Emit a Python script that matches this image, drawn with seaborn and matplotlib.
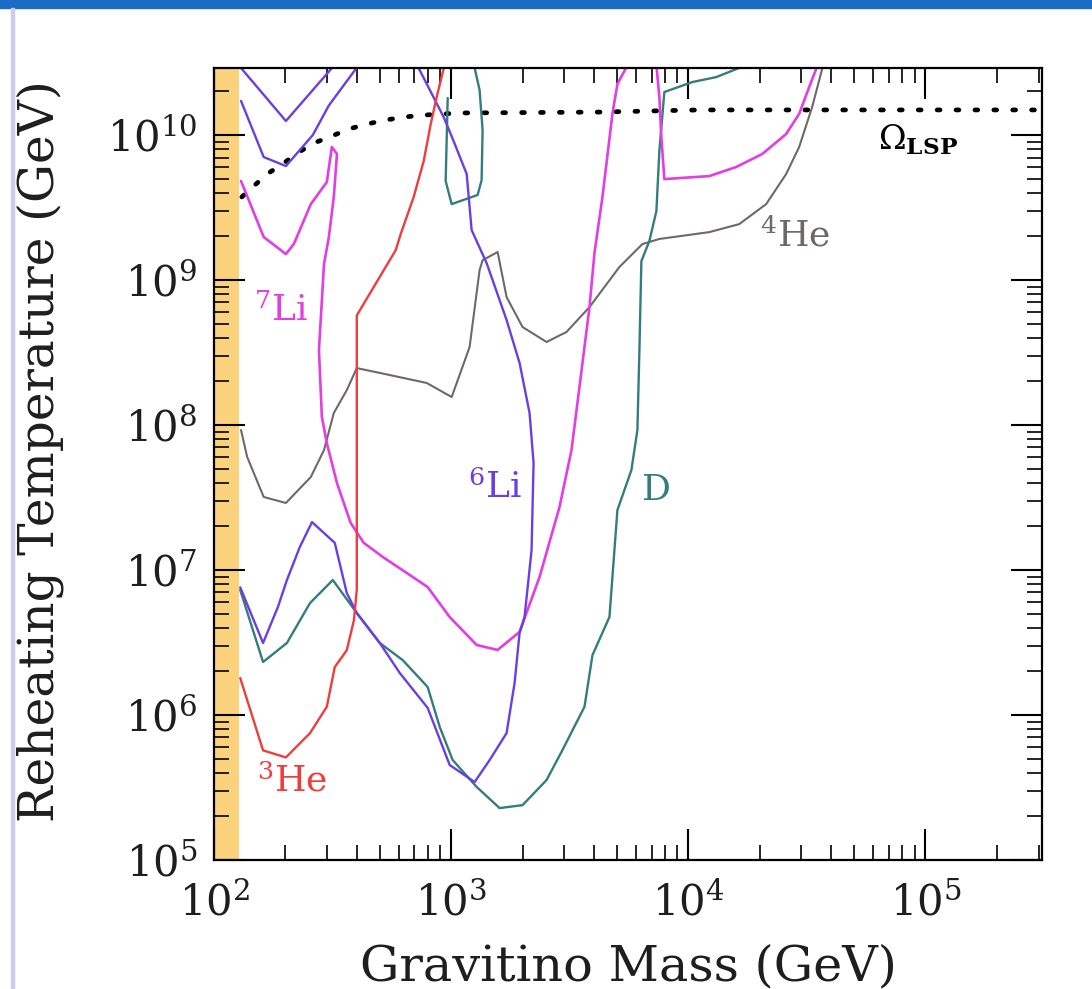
import numpy as np
import pandas as pd
import matplotlib
matplotlib.use("Agg")
import matplotlib.pyplot as plt
from matplotlib.patches import Rectangle
from matplotlib.ticker import LogLocator, FuncFormatter, NullFormatter
import seaborn as sns

# ---------------- data (GeV) ----------------
# 3He bound (red)
he3_mass = [129, 161, 201, 254, 299, 323, 363, 389, 400, 400, 584, 613, 695, 766, 820, 869, 945]
he3_temp = [1.8e6, 5.7e5, 5.1e5, 7.5e5, 1.14e6, 2.14e6, 2.8e6, 4.5e6, 7.3e6, 5.7e8, 1.61e9,
            2.08e9, 3.74e9, 6.62e9, 1.19e10, 1.83e10, 3.2e10]

# 6Li bound (blue-violet) main contour
li6_mass = [129, 161, 186, 203, 230, 259, 323, 363, 400, 500, 607, 796, 986, 1256, 1453, 1713,
            1851, 1943, 2039, 2183, 2226, 2141, 1943, 1713, 1411, 1220, 1163, 1024, 930, 700]
li6_temp = [7.6e6, 3.14e6, 5.56e6, 8.53e6, 1.44e7, 2.14e7, 1.54e7, 6.94e6, 5.05e6, 3.14e6,
            1.95e6, 1.12e6, 4.52e5, 3.45e5, 4.89e5, 7.51e5, 1.66e6, 3.68e6, 4.74e6, 1.37e7,
            5.47e7, 1.21e8, 2.68e8, 5.3e8, 1.31e9, 2.21e9, 5.38e9, 9.09e9, 1.33e10, 3.3e10]
# 6Li upper pieces
li6_up1_mass = [130, 201, 320]
li6_up1_temp = [2.9e10, 1.25e10, 3.0e10]
li6_up2_mass = [130, 162, 201, 261, 305, 405]
li6_up2_temp = [1.72e10, 7.05e9, 6.11e9, 1.0e10, 1.6e10, 3.0e10]

# D bound (teal)
d_mass = [129, 161, 203, 254, 317, 400, 500, 625, 796, 895, 1015, 1281, 1601, 2000, 2525,
          2948, 3649, 3944, 4650, 4880, 5024, 5754, 6100, 6220, 6340, 6853, 7335, 7550,
          7924, 10395, 13124, 15925, 19900]
d_temp = [7.28e6, 2.32e6, 3.14e6, 5.92e6, 8.53e6, 5.05e6, 3.14e6, 2.39e6, 1.56e6, 8.27e5,
          4.89e5, 3.19e5, 2.28e5, 2.39e5, 3.56e5, 5.74e5, 1.14e6, 2.59e6, 4.74e6, 1.37e7,
          2.59e7, 4.89e7, 9.24e7, 3.29e8, 1.35e9, 1.86e9, 2.99e9, 7.76e9, 1.98e10, 2.32e10,
          2.51e10, 2.85e10, 3.3e10]
# D upper loop
d_loop_mass = [967, 948, 1005, 1293, 1344, 1357, 1318, 1240]
d_loop_temp = [1.8e10, 4.82e9, 3.34e9, 3.86e9, 4.89e9, 1.08e10, 2.04e10, 3.2e10]

# 7Li bound (magenta)
li7_mass = [130, 162, 201, 217, 256, 299, 314, 330, 320, 305, 291, 277, 285, 299, 330, 377,
            428, 515, 650, 796, 986, 1281, 1570, 1943, 2359, 2863, 3217, 3579, 3831, 4021,
            4345, 4786, 5024, 5754]
li7_temp = [4.82e9, 1.98e9, 1.51e9, 1.77e9, 3.34e9, 4.74e9, 8.27e9, 7.4e9, 3.74e9, 1.98e9,
            1.29e9, 3.29e8, 1.14e8, 7.51e7, 3.98e7, 2.11e7, 1.54e7, 1.23e7, 9.54e6, 7.63e6,
            4.74e6, 3.04e6, 2.81e6, 3.74e6, 8.95e6, 2.72e7, 6.72e7, 2.68e8, 6.51e8, 1.54e9,
            3.74e9, 1.40e10, 2.25e10, 3.4e10]
li7_right_mass = [7300, 7550, 7696, 7924, 12258, 15925, 20493, 25846, 29339, 32325, 34583, 35700]
li7_right_temp = [3.3e10, 1.83e10, 9.69e9, 4.97e9, 5.21e9, 6.02e9, 7.4e9, 1.016e10, 1.40e10,
                  2.14e10, 2.85e10, 3.3e10]

# 4He bound (grey)
he4_mass = [130, 138, 162, 201, 256, 291, 320, 363, 400, 505, 789, 1005, 1196, 1318, 1357,
            1570, 1713, 2000, 2525, 3064, 3831, 5122, 6403, 7550, 12258, 16393, 21294, 25846,
            29339, 33277, 36660, 37900]
he4_temp = [9.24e7, 6.02e7, 3.19e7, 2.90e7, 4.38e7, 6.72e7, 1.21e8, 1.74e8, 2.47e8, 2.28e8,
            1.95e8, 1.56e8, 3.45e8, 1.17e9, 1.37e9, 1.56e9, 7.63e8, 4.74e8, 3.74e8, 4.38e8,
            6.51e8, 1.23e9, 1.77e9, 1.92e9, 2.14e9, 2.43e9, 3.34e9, 5.38e9, 8.27e9, 1.56e10,
            2.85e10, 3.3e10]

# Omega_LSP (dotted black)
omega_mass = [131, 147, 170, 197, 228, 264, 314, 370, 441, 530, 631, 751, 930, 1096, 4220,
              11125, 310000]
omega_temp = [3.74e9, 4.45e9, 5.47e9, 6.41e9, 7.63e9, 8.81e9, 9.84e9, 1.10e10, 1.19e10,
              1.27e10, 1.33e10, 1.37e10, 1.40e10, 1.42e10, 1.44e10, 1.49e10, 1.49e10]

excluded_mass_max = 127   # shaded band on the left
x_range = (100, 3.1e5)
y_range = (1e5, 2.9e10)

# ---------------- style ----------------
sns.set_theme(style="white")
plt.rcParams["font.family"] = ["DejaVu Serif"]
plt.rcParams["mathtext.fontset"] = "dejavuserif"

RED = "#ee3d3d"
MAG = "#e23ee2"
BLUE = "#6a3fe0"
TEAL = "#357c7c"
GREY = "#6f6868"
TXT = "#1e1e1e"

fig = plt.figure(figsize=(10.92, 9.89), dpi=100)
# page decorations
fig.patches.append(Rectangle((0, 1 - 8 / 989), 1, 8 / 989, transform=fig.transFigure,
                             color="#1a6cc4", zorder=0))
fig.patches.append(Rectangle((11 / 1092, 0), 3 / 1092, 1 - 8 / 989, transform=fig.transFigure,
                             color="#c9cdeb", zorder=0))

ax = fig.add_axes([214 / 1092, 1 - 860 / 989, 828 / 1092, 792 / 989])
ax.set_xscale("log")
ax.set_yscale("log")
ax.set_xlim(*x_range)
ax.set_ylim(*y_range)
ax.axvspan(x_range[0], excluded_mass_max, color="#fbd27c", lw=0, zorder=0)


def draw(m, t, color, lw=1.7, **kw):
    df = pd.DataFrame({"m": m, "T": t})
    sns.lineplot(data=df, x="m", y="T", sort=False, estimator=None, color=color,
                 lw=lw, ax=ax, **kw)


draw(omega_mass, omega_temp, "black", lw=3.4, linestyle=(0, (0.6, 3.4)),
     dash_capstyle="round")
draw(he4_mass, he4_temp, GREY, lw=1.5)
draw(d_mass, d_temp, TEAL, lw=1.7)
draw(d_loop_mass, d_loop_temp, TEAL, lw=1.7)
draw(li7_mass, li7_temp, MAG, lw=1.9)
draw(li7_right_mass, li7_right_temp, MAG, lw=1.9)
draw(li6_mass, li6_temp, BLUE, lw=1.7)
draw(li6_up1_mass, li6_up1_temp, BLUE, lw=1.7)
draw(li6_up2_mass, li6_up2_temp, BLUE, lw=1.7)
draw(he3_mass, he3_temp, RED, lw=1.7)

# ticks
ax.xaxis.set_major_locator(LogLocator(base=10, numticks=20))
ax.xaxis.set_minor_locator(LogLocator(base=10, subs=np.arange(2, 10), numticks=200))
ax.yaxis.set_major_locator(LogLocator(base=10, numticks=20))
ax.yaxis.set_minor_locator(LogLocator(base=10, subs=np.arange(2, 10), numticks=200))
fmt = FuncFormatter(lambda v, p: r"$10^{%d}$" % int(round(np.log10(v))))
ax.xaxis.set_major_formatter(fmt)
ax.yaxis.set_major_formatter(fmt)
ax.xaxis.set_minor_formatter(NullFormatter())
ax.yaxis.set_minor_formatter(NullFormatter())
ax.tick_params(which="both", direction="in", top=True, right=True, bottom=True, left=True,
               colors="black", labelcolor=TXT)
ax.tick_params(which="major", length=22, width=1.5, labelsize=30)
ax.tick_params(axis="x", which="major", pad=16)
ax.tick_params(axis="y", which="major", pad=12)
ax.tick_params(which="minor", length=11, width=1.2)
for s in ax.spines.values():
    s.set_linewidth(1.6)
    s.set_color("black")

ax.set_xlabel("Gravitino Mass (GeV)", fontsize=35.5, labelpad=14, color=TXT)
ax.set_ylabel("Reheating Temperature (GeV)", fontsize=35, color=TXT)
ax.yaxis.set_label_coords(-0.181, 0.516)

# curve labels
ax.text(0.081, 0.694, r"$^{7}$Li", color=MAG, fontsize=26, ha="center", va="center",
        transform=ax.transAxes)
ax.text(0.339, 0.470, r"$^{6}$Li", color=BLUE, fontsize=26, ha="center", va="center",
        transform=ax.transAxes)
ax.text(0.534, 0.467, "D", color=TEAL, fontsize=26, ha="center", va="center",
        transform=ax.transAxes)
ax.text(0.702, 0.788, r"$^{4}$He", color=GREY, fontsize=26, ha="center", va="center",
        transform=ax.transAxes)
ax.text(0.094, 0.100, r"$^{3}$He", color=RED, fontsize=26, ha="center", va="center",
        transform=ax.transAxes)
ax.text(0.851, 0.909, r"$\Omega_{\mathbf{LSP}}$", color="black", fontsize=24, ha="center",
        va="center", transform=ax.transAxes)

fig.savefig("out.png", dpi=100)
